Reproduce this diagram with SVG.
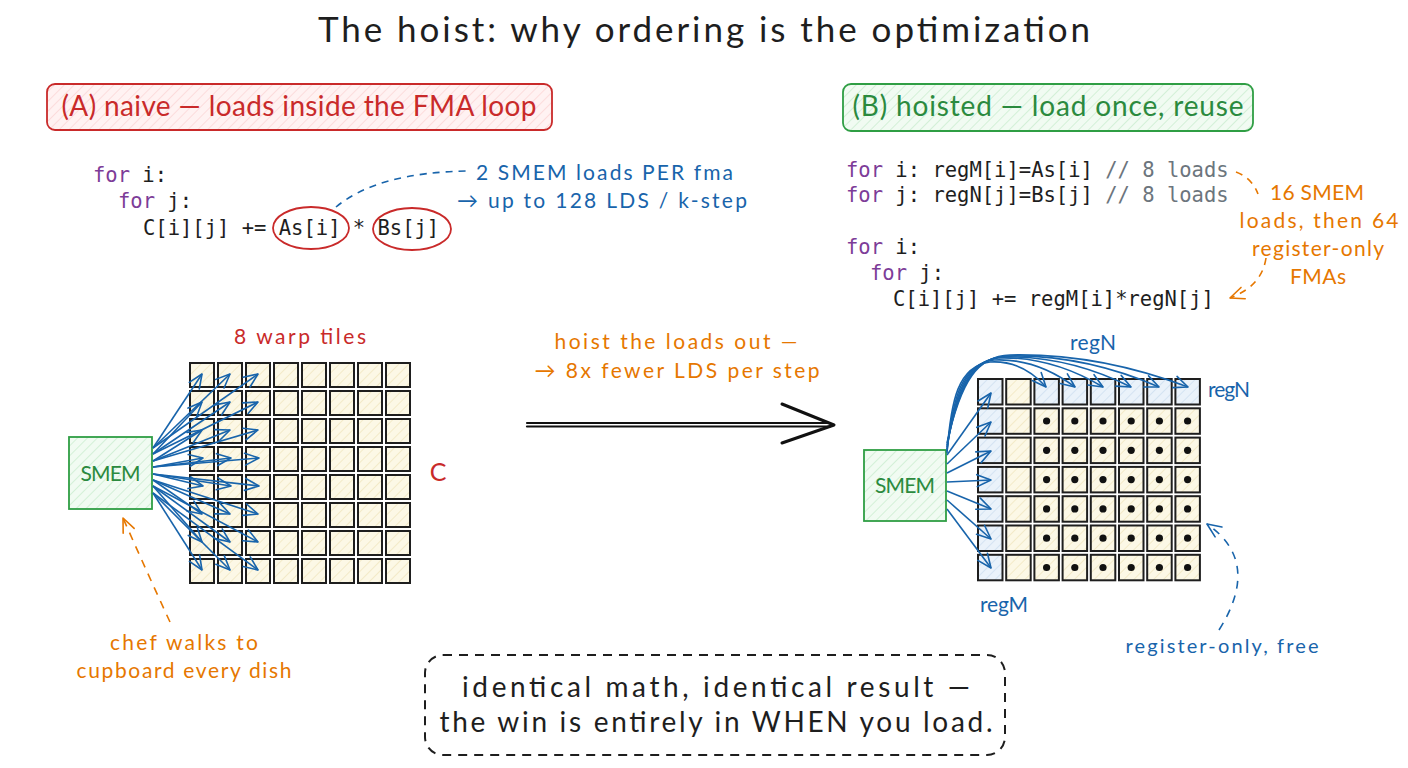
<svg xmlns="http://www.w3.org/2000/svg" width="1408" height="768" viewBox="0 0 1408 768">
  <defs>
    <style>
      .hand { font-family: "Lato", "Noto Sans", "DejaVu Sans", sans-serif; }
      .code { font-family: "DejaVu Sans Mono", "Liberation Mono", monospace; font-size: 20.5px; fill: #1e1e1e; }
      .kw { fill: #7d3c98; }
      .cm { fill: #6c757d; }
      .red { fill: #c92a2a; }
      .blue { fill: #1864ab; }
      .orange { fill: #e67700; }
      .green { fill: #2b8a3e; }
      .ink { fill: #1e1e1e; }
      .cellY { fill: url(#hY); stroke: #1e1e1e; stroke-width: 2; }
      .cellB { fill: url(#hB); stroke: #1e1e1e; stroke-width: 2; }
      .dot { fill: #111; }
      .load { stroke: #1864ab; stroke-width: 1.6; fill: none; marker-end: url(#ahBlue); }
      .smem { fill: url(#hG); stroke: #2f9e44; stroke-width: 1.8; }
    </style>
    <pattern id="hY" width="7" height="7" patternUnits="userSpaceOnUse" patternTransform="rotate(45)">
      <rect width="7" height="7" fill="#fcf8e6"/>
      <line x1="0" y1="0" x2="0" y2="7" stroke="#efe3b8" stroke-width="1.3"/>
    </pattern>
    <pattern id="hB" width="7" height="7" patternUnits="userSpaceOnUse" patternTransform="rotate(45)">
      <rect width="7" height="7" fill="#eaf2fa"/>
      <line x1="0" y1="0" x2="0" y2="7" stroke="#c9dcef" stroke-width="1.3"/>
    </pattern>
    <pattern id="hG" width="7" height="7" patternUnits="userSpaceOnUse" patternTransform="rotate(45)">
      <rect width="7" height="7" fill="#f1fbf2"/>
      <line x1="0" y1="0" x2="0" y2="7" stroke="#c3ebc9" stroke-width="1.3"/>
    </pattern>
    <pattern id="hR" width="7" height="7" patternUnits="userSpaceOnUse" patternTransform="rotate(45)">
      <rect width="7" height="7" fill="#fff2f2"/>
      <line x1="0" y1="0" x2="0" y2="7" stroke="#fbd0d0" stroke-width="1.3"/>
    </pattern>
    <marker id="ahBlue" viewBox="-16 -9 18 18" refX="0" refY="0" markerWidth="18" markerHeight="18" markerUnits="userSpaceOnUse" orient="auto">
      <path d="M-14,-6 L0,0 L-14,6" fill="none" stroke="#1864ab" stroke-width="1.6" stroke-linecap="round" stroke-linejoin="round"/>
    </marker>
    <marker id="ahOrange" viewBox="-16 -9 18 18" refX="0" refY="0" markerWidth="18" markerHeight="18" markerUnits="userSpaceOnUse" orient="auto">
      <path d="M-14,-6 L0,0 L-14,6" fill="none" stroke="#e67700" stroke-width="1.6" stroke-linecap="round" stroke-linejoin="round"/>
    </marker>
  </defs>

  <rect width="1408" height="768" fill="#ffffff"/>

  <!-- title -->
  <text class="hand ink" x="704" y="42" font-size="35" text-anchor="middle" textLength="772">The hoist: why ordering is the optimization</text>

  <!-- section headers -->
  <g id="header-a">
    <rect x="47" y="84" width="505" height="46" rx="8" fill="url(#hR)" stroke="#c92a2a" stroke-width="1.8"/>
    <text class="hand red" x="299" y="116" font-size="28" text-anchor="middle" textLength="475">(A) naive — loads inside the FMA loop</text>
  </g>
  <g id="header-b">
    <rect x="843" y="84" width="410" height="47" rx="8" fill="url(#hG)" stroke="#2f9e44" stroke-width="1.8"/>
    <text class="hand green" x="1048" y="116" font-size="28" text-anchor="middle" textLength="391">(B) hoisted — load once, reuse</text>
  </g>

  <!-- naive loop code -->
  <g id="code-a">
    <text class="code" x="93" y="182"><tspan class="kw">for</tspan> i:</text>
    <text class="code" x="118" y="208"><tspan class="kw">for</tspan> j:</text>
    <text class="code" x="143" y="235">C[i][j] += As[i] * Bs[j]</text>
    <ellipse cx="311" cy="228" rx="38" ry="21" fill="none" stroke="#c92a2a" stroke-width="1.8"/>
    <ellipse cx="412" cy="229" rx="39" ry="21" fill="none" stroke="#c92a2a" stroke-width="1.8"/>
  </g>
  <g id="note-a">
    <text class="hand blue" x="476" y="180" font-size="21" textLength="257">2 SMEM loads PER fma</text>
    <text class="hand blue" x="457" y="208" font-size="21" textLength="290">→ up to 128 LDS / k-step</text>
  </g>

  <!-- hoisted loop code -->
  <g id="code-b">
    <text class="code" x="846" y="177"><tspan class="kw">for</tspan> i: regM[i]=As[i] <tspan class="cm">// 8 loads</tspan></text>
    <text class="code" x="846" y="202"><tspan class="kw">for</tspan> j: regN[j]=Bs[j] <tspan class="cm">// 8 loads</tspan></text>
    <text class="code" x="846" y="254"><tspan class="kw">for</tspan> i:</text>
    <text class="code" x="870" y="280"><tspan class="kw">for</tspan> j:</text>
    <text class="code" x="893" y="306">C[i][j] += regM[i]*regN[j]</text>
  </g>
  <g id="note-b">
    <text class="hand orange" x="1317" y="200" font-size="21" text-anchor="middle" textLength="94">16 SMEM</text>
    <text class="hand orange" x="1319" y="228" font-size="21" text-anchor="middle" textLength="159">loads, then 64</text>
    <text class="hand orange" x="1318" y="256" font-size="21" text-anchor="middle" textLength="132">register-only</text>
    <text class="hand orange" x="1318" y="284" font-size="21" text-anchor="middle" textLength="56">FMAs</text>
  </g>

  <!-- naive: C tile grid, 8x8 -->
  <g id="grid-a">
    <text class="hand red" x="300" y="344" font-size="21" text-anchor="middle" textLength="132">8 warp tiles</text>
    <g>
      <rect class="cellY" x="190" y="363" width="24" height="24"/><rect class="cellY" x="218" y="363" width="24" height="24"/><rect class="cellY" x="246" y="363" width="24" height="24"/><rect class="cellY" x="274" y="363" width="24" height="24"/><rect class="cellY" x="302" y="363" width="24" height="24"/><rect class="cellY" x="330" y="363" width="24" height="24"/><rect class="cellY" x="358" y="363" width="24" height="24"/><rect class="cellY" x="386" y="363" width="24" height="24"/>
      <rect class="cellY" x="190" y="391" width="24" height="24"/><rect class="cellY" x="218" y="391" width="24" height="24"/><rect class="cellY" x="246" y="391" width="24" height="24"/><rect class="cellY" x="274" y="391" width="24" height="24"/><rect class="cellY" x="302" y="391" width="24" height="24"/><rect class="cellY" x="330" y="391" width="24" height="24"/><rect class="cellY" x="358" y="391" width="24" height="24"/><rect class="cellY" x="386" y="391" width="24" height="24"/>
      <rect class="cellY" x="190" y="419" width="24" height="24"/><rect class="cellY" x="218" y="419" width="24" height="24"/><rect class="cellY" x="246" y="419" width="24" height="24"/><rect class="cellY" x="274" y="419" width="24" height="24"/><rect class="cellY" x="302" y="419" width="24" height="24"/><rect class="cellY" x="330" y="419" width="24" height="24"/><rect class="cellY" x="358" y="419" width="24" height="24"/><rect class="cellY" x="386" y="419" width="24" height="24"/>
      <rect class="cellY" x="190" y="447" width="24" height="24"/><rect class="cellY" x="218" y="447" width="24" height="24"/><rect class="cellY" x="246" y="447" width="24" height="24"/><rect class="cellY" x="274" y="447" width="24" height="24"/><rect class="cellY" x="302" y="447" width="24" height="24"/><rect class="cellY" x="330" y="447" width="24" height="24"/><rect class="cellY" x="358" y="447" width="24" height="24"/><rect class="cellY" x="386" y="447" width="24" height="24"/>
      <rect class="cellY" x="190" y="475" width="24" height="24"/><rect class="cellY" x="218" y="475" width="24" height="24"/><rect class="cellY" x="246" y="475" width="24" height="24"/><rect class="cellY" x="274" y="475" width="24" height="24"/><rect class="cellY" x="302" y="475" width="24" height="24"/><rect class="cellY" x="330" y="475" width="24" height="24"/><rect class="cellY" x="358" y="475" width="24" height="24"/><rect class="cellY" x="386" y="475" width="24" height="24"/>
      <rect class="cellY" x="190" y="503" width="24" height="24"/><rect class="cellY" x="218" y="503" width="24" height="24"/><rect class="cellY" x="246" y="503" width="24" height="24"/><rect class="cellY" x="274" y="503" width="24" height="24"/><rect class="cellY" x="302" y="503" width="24" height="24"/><rect class="cellY" x="330" y="503" width="24" height="24"/><rect class="cellY" x="358" y="503" width="24" height="24"/><rect class="cellY" x="386" y="503" width="24" height="24"/>
      <rect class="cellY" x="190" y="531" width="24" height="24"/><rect class="cellY" x="218" y="531" width="24" height="24"/><rect class="cellY" x="246" y="531" width="24" height="24"/><rect class="cellY" x="274" y="531" width="24" height="24"/><rect class="cellY" x="302" y="531" width="24" height="24"/><rect class="cellY" x="330" y="531" width="24" height="24"/><rect class="cellY" x="358" y="531" width="24" height="24"/><rect class="cellY" x="386" y="531" width="24" height="24"/>
      <rect class="cellY" x="190" y="559" width="24" height="24"/><rect class="cellY" x="218" y="559" width="24" height="24"/><rect class="cellY" x="246" y="559" width="24" height="24"/><rect class="cellY" x="274" y="559" width="24" height="24"/><rect class="cellY" x="302" y="559" width="24" height="24"/><rect class="cellY" x="330" y="559" width="24" height="24"/><rect class="cellY" x="358" y="559" width="24" height="24"/><rect class="cellY" x="386" y="559" width="24" height="24"/>
    </g>
    <text class="hand red" x="438" y="481" font-size="25" text-anchor="middle">C</text>
  </g>

  <g id="smem-a">
    <rect class="smem" x="69" y="437" width="83" height="72"/>
    <text class="hand green" x="110.5" y="481" font-size="21" text-anchor="middle" textLength="60">SMEM</text>
  </g>
  <g id="chef-note">
    <text class="hand orange" x="184" y="650" font-size="21" text-anchor="middle" textLength="148">chef walks to</text>
    <text class="hand orange" x="184" y="678" font-size="21" text-anchor="middle" textLength="215">cupboard every dish</text>
  </g>

  <!-- middle transition -->
  <g id="hoist-label">
    <text class="hand orange" x="676" y="349" font-size="21" text-anchor="middle" textLength="243">hoist the loads out —</text>
    <text class="hand orange" x="677" y="378" font-size="21" text-anchor="middle" textLength="285">→ 8x fewer LDS per step</text>
  </g>

  <!-- hoisted: C tile grid with register row/column -->
  <g id="grid-b">
    <rect class="cellB" x="978" y="379" width="24.5" height="25.5"/><rect class="cellY" x="1006.2" y="379" width="24.5" height="25.5"/><rect class="cellB" x="1034.4" y="379" width="24.5" height="25.5"/><rect class="cellB" x="1062.6" y="379" width="24.5" height="25.5"/><rect class="cellB" x="1090.8" y="379" width="24.5" height="25.5"/><rect class="cellB" x="1119" y="379" width="24.5" height="25.5"/><rect class="cellB" x="1147.2" y="379" width="24.5" height="25.5"/><rect class="cellB" x="1175.4" y="379" width="24.5" height="25.5"/>
    <rect class="cellB" x="978" y="408.3" width="24.5" height="25.5"/><rect class="cellY" x="1006.2" y="408.3" width="24.5" height="25.5"/><rect class="cellY" x="1034.4" y="408.3" width="24.5" height="25.5"/><rect class="cellY" x="1062.6" y="408.3" width="24.5" height="25.5"/><rect class="cellY" x="1090.8" y="408.3" width="24.5" height="25.5"/><rect class="cellY" x="1119" y="408.3" width="24.5" height="25.5"/><rect class="cellY" x="1147.2" y="408.3" width="24.5" height="25.5"/><rect class="cellY" x="1175.4" y="408.3" width="24.5" height="25.5"/>
    <rect class="cellB" x="978" y="437.6" width="24.5" height="25.5"/><rect class="cellY" x="1006.2" y="437.6" width="24.5" height="25.5"/><rect class="cellY" x="1034.4" y="437.6" width="24.5" height="25.5"/><rect class="cellY" x="1062.6" y="437.6" width="24.5" height="25.5"/><rect class="cellY" x="1090.8" y="437.6" width="24.5" height="25.5"/><rect class="cellY" x="1119" y="437.6" width="24.5" height="25.5"/><rect class="cellY" x="1147.2" y="437.6" width="24.5" height="25.5"/><rect class="cellY" x="1175.4" y="437.6" width="24.5" height="25.5"/>
    <rect class="cellB" x="978" y="466.9" width="24.5" height="25.5"/><rect class="cellY" x="1006.2" y="466.9" width="24.5" height="25.5"/><rect class="cellY" x="1034.4" y="466.9" width="24.5" height="25.5"/><rect class="cellY" x="1062.6" y="466.9" width="24.5" height="25.5"/><rect class="cellY" x="1090.8" y="466.9" width="24.5" height="25.5"/><rect class="cellY" x="1119" y="466.9" width="24.5" height="25.5"/><rect class="cellY" x="1147.2" y="466.9" width="24.5" height="25.5"/><rect class="cellY" x="1175.4" y="466.9" width="24.5" height="25.5"/>
    <rect class="cellB" x="978" y="496.2" width="24.5" height="25.5"/><rect class="cellY" x="1006.2" y="496.2" width="24.5" height="25.5"/><rect class="cellY" x="1034.4" y="496.2" width="24.5" height="25.5"/><rect class="cellY" x="1062.6" y="496.2" width="24.5" height="25.5"/><rect class="cellY" x="1090.8" y="496.2" width="24.5" height="25.5"/><rect class="cellY" x="1119" y="496.2" width="24.5" height="25.5"/><rect class="cellY" x="1147.2" y="496.2" width="24.5" height="25.5"/><rect class="cellY" x="1175.4" y="496.2" width="24.5" height="25.5"/>
    <rect class="cellB" x="978" y="525.5" width="24.5" height="25.5"/><rect class="cellY" x="1006.2" y="525.5" width="24.5" height="25.5"/><rect class="cellY" x="1034.4" y="525.5" width="24.5" height="25.5"/><rect class="cellY" x="1062.6" y="525.5" width="24.5" height="25.5"/><rect class="cellY" x="1090.8" y="525.5" width="24.5" height="25.5"/><rect class="cellY" x="1119" y="525.5" width="24.5" height="25.5"/><rect class="cellY" x="1147.2" y="525.5" width="24.5" height="25.5"/><rect class="cellY" x="1175.4" y="525.5" width="24.5" height="25.5"/>
    <rect class="cellB" x="978" y="554.8" width="24.5" height="25.5"/><rect class="cellY" x="1006.2" y="554.8" width="24.5" height="25.5"/><rect class="cellY" x="1034.4" y="554.8" width="24.5" height="25.5"/><rect class="cellY" x="1062.6" y="554.8" width="24.5" height="25.5"/><rect class="cellY" x="1090.8" y="554.8" width="24.5" height="25.5"/><rect class="cellY" x="1119" y="554.8" width="24.5" height="25.5"/><rect class="cellY" x="1147.2" y="554.8" width="24.5" height="25.5"/><rect class="cellY" x="1175.4" y="554.8" width="24.5" height="25.5"/>
    <!-- register-only FMA marks -->
    <g>
      <circle class="dot" cx="1046.6" cy="421" r="3.6"/><circle class="dot" cx="1074.8" cy="421" r="3.6"/><circle class="dot" cx="1103" cy="421" r="3.6"/><circle class="dot" cx="1131.2" cy="421" r="3.6"/><circle class="dot" cx="1159.4" cy="421" r="3.6"/><circle class="dot" cx="1187.6" cy="421" r="3.6"/>
      <circle class="dot" cx="1046.6" cy="450.3" r="3.6"/><circle class="dot" cx="1074.8" cy="450.3" r="3.6"/><circle class="dot" cx="1103" cy="450.3" r="3.6"/><circle class="dot" cx="1131.2" cy="450.3" r="3.6"/><circle class="dot" cx="1159.4" cy="450.3" r="3.6"/><circle class="dot" cx="1187.6" cy="450.3" r="3.6"/>
      <circle class="dot" cx="1046.6" cy="479.6" r="3.6"/><circle class="dot" cx="1074.8" cy="479.6" r="3.6"/><circle class="dot" cx="1103" cy="479.6" r="3.6"/><circle class="dot" cx="1131.2" cy="479.6" r="3.6"/><circle class="dot" cx="1159.4" cy="479.6" r="3.6"/><circle class="dot" cx="1187.6" cy="479.6" r="3.6"/>
      <circle class="dot" cx="1046.6" cy="508.9" r="3.6"/><circle class="dot" cx="1074.8" cy="508.9" r="3.6"/><circle class="dot" cx="1103" cy="508.9" r="3.6"/><circle class="dot" cx="1131.2" cy="508.9" r="3.6"/><circle class="dot" cx="1159.4" cy="508.9" r="3.6"/><circle class="dot" cx="1187.6" cy="508.9" r="3.6"/>
      <circle class="dot" cx="1046.6" cy="538.2" r="3.6"/><circle class="dot" cx="1074.8" cy="538.2" r="3.6"/><circle class="dot" cx="1103" cy="538.2" r="3.6"/><circle class="dot" cx="1131.2" cy="538.2" r="3.6"/><circle class="dot" cx="1159.4" cy="538.2" r="3.6"/><circle class="dot" cx="1187.6" cy="538.2" r="3.6"/>
      <circle class="dot" cx="1046.6" cy="567.5" r="3.6"/><circle class="dot" cx="1074.8" cy="567.5" r="3.6"/><circle class="dot" cx="1103" cy="567.5" r="3.6"/><circle class="dot" cx="1131.2" cy="567.5" r="3.6"/><circle class="dot" cx="1159.4" cy="567.5" r="3.6"/><circle class="dot" cx="1187.6" cy="567.5" r="3.6"/>
    </g>
    <text class="hand blue" x="1093" y="350" font-size="21" text-anchor="middle" textLength="46">regN</text>
    <text class="hand blue" x="1208" y="397" font-size="21" textLength="42">regN</text>
    <text class="hand blue" x="1004" y="612" font-size="21" text-anchor="middle" textLength="48">regM</text>
  </g>

  <g id="smem-b">
    <rect class="smem" x="864" y="450" width="82" height="71"/>
    <text class="hand green" x="905" y="493" font-size="21" text-anchor="middle" textLength="60">SMEM</text>
  </g>
  <g id="free-note">
    <text class="hand blue" x="1222" y="653" font-size="20" text-anchor="middle" textLength="193">register-only, free</text>
  </g>

  <g id="summary">
    <rect x="425" y="655" width="580" height="100" rx="18" fill="none" stroke="#1e1e1e" stroke-width="2" stroke-dasharray="9 7"/>
    <text class="hand ink" x="716" y="697" font-size="28" text-anchor="middle" textLength="508">identical math, identical result —</text>
    <text class="hand ink" x="716" y="732" font-size="28" text-anchor="middle" textLength="553">the win is entirely in WHEN you load.</text>
  </g>

  <!-- connectors -->
  <g id="connectors">
    <!-- naive: per-FMA loads from SMEM into each tile -->
    <g>
      <line class="load" x1="153" y1="448" x2="202" y2="374"/><line class="load" x1="153" y1="448" x2="230" y2="374"/><line class="load" x1="153" y1="448" x2="258" y2="374"/>
      <line class="load" x1="153" y1="454" x2="202" y2="402"/><line class="load" x1="153" y1="454" x2="230" y2="402"/><line class="load" x1="153" y1="454" x2="258" y2="402"/>
      <line class="load" x1="153" y1="461" x2="202" y2="430"/><line class="load" x1="153" y1="461" x2="230" y2="430"/><line class="load" x1="153" y1="461" x2="258" y2="430"/>
      <line class="load" x1="153" y1="467" x2="203" y2="458"/><line class="load" x1="153" y1="467" x2="231" y2="458"/><line class="load" x1="153" y1="467" x2="259" y2="458"/>
      <line class="load" x1="153" y1="474" x2="203" y2="486"/><line class="load" x1="153" y1="474" x2="231" y2="486"/><line class="load" x1="153" y1="474" x2="259" y2="486"/>
      <line class="load" x1="153" y1="480" x2="202" y2="514"/><line class="load" x1="153" y1="480" x2="230" y2="514"/><line class="load" x1="153" y1="480" x2="258" y2="514"/>
      <line class="load" x1="153" y1="486" x2="202" y2="542"/><line class="load" x1="153" y1="486" x2="230" y2="542"/><line class="load" x1="153" y1="486" x2="258" y2="542"/>
      <line class="load" x1="153" y1="493" x2="202" y2="570"/><line class="load" x1="153" y1="493" x2="230" y2="570"/><line class="load" x1="153" y1="493" x2="258" y2="570"/>
    </g>
    <!-- hoisted: one load per regM row -->
    <g>
      <line class="load" x1="947" y1="455" x2="991" y2="393"/>
      <line class="load" x1="947" y1="464" x2="991" y2="422"/>
      <line class="load" x1="947" y1="473" x2="991" y2="451"/>
      <line class="load" x1="947" y1="482" x2="991" y2="480"/>
      <line class="load" x1="947" y1="491" x2="991" y2="509"/>
      <line class="load" x1="947" y1="500" x2="991" y2="539"/>
      <line class="load" x1="947" y1="509" x2="991" y2="568"/>
    </g>
    <!-- hoisted: one load per regN column -->
    <g>
      <path class="load" d="M947,453 C951,400 958,366 990,362 Q1022,360 1046,387"/>
      <path class="load" d="M947,451 C953,396 962,364 994,360 Q1036,358 1075,387"/>
      <path class="load" d="M947,449 C955,392 966,362 998,358 Q1051,356 1103,387"/>
      <path class="load" d="M947,447 C957,388 970,360 1002,357 Q1067,355 1131,387"/>
      <path class="load" d="M947,445 C959,384 974,358 1006,356 Q1083,354 1159,387"/>
      <path class="load" d="M947,443 C961,380 978,356 1010,355 Q1098,353 1188,387"/>
    </g>
    <!-- callouts -->
    <path d="M336,207 Q378,172 470,171" fill="none" stroke="#1864ab" stroke-width="1.6" stroke-dasharray="7 6"/>
    <path d="M1236,172 Q1252,178 1258,194" fill="none" stroke="#e67700" stroke-width="1.6" stroke-dasharray="7 6"/>
    <path d="M1266,258 Q1262,286 1230,298" fill="none" stroke="#e67700" stroke-width="1.6" stroke-dasharray="7 6" marker-end="url(#ahOrange)"/>
    <path d="M170,622 Q146,570 123,518" fill="none" stroke="#e67700" stroke-width="1.6" stroke-dasharray="8 7" marker-end="url(#ahOrange)"/>
    <path d="M1219,630 Q1262,562 1207,524" fill="none" stroke="#1864ab" stroke-width="1.6" stroke-dasharray="8 7" marker-end="url(#ahBlue)"/>
    <!-- naive -> hoisted transition -->
    <g stroke="#111" fill="none" stroke-linecap="round">
      <line x1="527" y1="423" x2="830" y2="423" stroke-width="2.2"/>
      <line x1="527" y1="426.5" x2="830" y2="426.5" stroke-width="2.2"/>
      <polyline points="782,404 834,425 782,443" stroke-width="3" stroke-linejoin="round"/>
    </g>
  </g>
</svg>
